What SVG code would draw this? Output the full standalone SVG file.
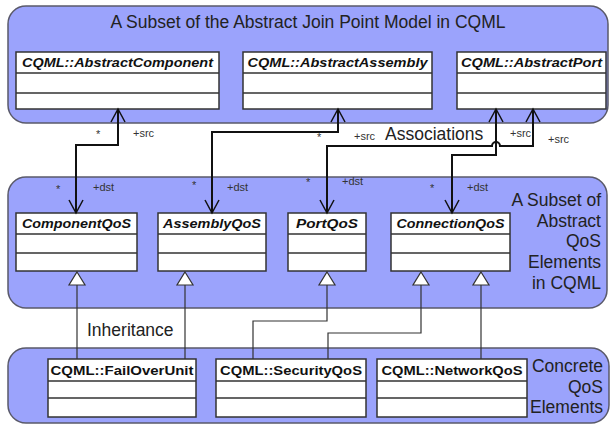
<svg xmlns="http://www.w3.org/2000/svg" width="610" height="425" viewBox="0 0 610 425">
<style>
.panel{fill:#9ba3fc;stroke:#5a5a6a;stroke-width:1.5}
.box{fill:#fff;stroke:#333;stroke-width:1.5}
.sep{stroke:#333;stroke-width:1.5}
.cn{font-family:"Liberation Sans",Arial,sans-serif;font-size:13px;font-weight:bold;font-style:italic;fill:#111;text-anchor:middle}
.cc{font-family:"Liberation Sans",Arial,sans-serif;font-size:12.5px;font-weight:bold;fill:#111;text-anchor:middle}
.big{font-family:"Liberation Sans",Arial,sans-serif;font-size:17.5px;fill:#222}
.lab{font-family:"Liberation Sans",Arial,sans-serif;font-size:11px;fill:#333}
.assoc{fill:none;stroke:#111;stroke-width:2}
.inh{fill:none;stroke:#333;stroke-width:1.2}
.tri{fill:#fff;stroke:#333;stroke-width:1.2}
</style>
<defs>
<marker id="open" markerUnits="userSpaceOnUse" markerWidth="20" markerHeight="20" refX="0" refY="0" viewBox="-14 -10 16 20" orient="auto-start-reverse" overflow="visible">
<path d="M-13,-7 L0,0 L-13,7" fill="none" stroke="#111" stroke-width="1.5"/>
</marker>
</defs>
<g id="panel-top">
<rect class="panel" x="8" y="6" width="600" height="117" rx="18"/>
<text class="big" x="308" y="28" text-anchor="middle">A Subset of the Abstract Join Point Model in CQML</text>
</g>
<g id="panel-mid">
<rect class="panel" x="8" y="177" width="599" height="131" rx="18"/>
<text class="big" text-anchor="end"><tspan x="601" y="206">A Subset of</tspan><tspan x="601" y="227">Abstract</tspan><tspan x="601" y="247">QoS</tspan><tspan x="601" y="268">Elements</tspan><tspan x="601" y="289">in CQML</tspan></text>
</g>
<g id="panel-bottom">
<rect class="panel" x="8" y="348" width="601" height="75" rx="18"/>
<text class="big" text-anchor="end"><tspan x="603" y="372">Concrete</tspan><tspan x="603" y="393">QoS</tspan><tspan x="603" y="413">Elements</tspan></text>
</g>
<g id="AbstractComponent">
<rect class="box" x="16" y="52" width="203" height="57"/>
<path class="sep" d="M16,73 H219 M16,93 H219"/>
<text class="cn" x="117.5" y="67" textLength="191" lengthAdjust="spacingAndGlyphs">CQML::AbstractComponent</text>
</g>
<g id="AbstractAssembly">
<rect class="box" x="243" y="52" width="189" height="57"/>
<path class="sep" d="M243,73 H432 M243,93 H432"/>
<text class="cn" x="337.5" y="67" textLength="180" lengthAdjust="spacingAndGlyphs">CQML::AbstractAssembly</text>
</g>
<g id="AbstractPort">
<rect class="box" x="457" y="52" width="149" height="57"/>
<path class="sep" d="M457,73 H606 M457,93 H606"/>
<text class="cn" x="531.5" y="67" textLength="141" lengthAdjust="spacingAndGlyphs">CQML::AbstractPort</text>
</g>
<g id="ComponentQoS">
<rect class="box" x="16" y="213" width="121" height="58"/>
<path class="sep" d="M16,234 H137 M16,253 H137"/>
<text class="cn" x="76.5" y="228" textLength="109" lengthAdjust="spacingAndGlyphs">ComponentQoS</text>
</g>
<g id="AssemblyQoS">
<rect class="box" x="158" y="213" width="108" height="58"/>
<path class="sep" d="M158,234 H266 M158,253 H266"/>
<text class="cn" x="212" y="228" textLength="98" lengthAdjust="spacingAndGlyphs">AssemblyQoS</text>
</g>
<g id="PortQoS">
<rect class="box" x="288" y="213" width="78" height="58"/>
<path class="sep" d="M288,234 H366 M288,253 H366"/>
<text class="cn" x="327" y="228" textLength="62" lengthAdjust="spacingAndGlyphs">PortQoS</text>
</g>
<g id="ConnectionQoS">
<rect class="box" x="391" y="213" width="119" height="58"/>
<path class="sep" d="M391,234 H510 M391,253 H510"/>
<text class="cn" x="450.5" y="228" textLength="108" lengthAdjust="spacingAndGlyphs">ConnectionQoS</text>
</g>
<g id="FailOverUnit">
<rect class="box" x="48" y="359" width="148" height="58"/>
<path class="sep" d="M48,381 H196 M48,398 H196"/>
<text class="cc" x="122" y="375" textLength="143" lengthAdjust="spacingAndGlyphs">CQML::FailOverUnit</text>
</g>
<g id="SecurityQoS">
<rect class="box" x="216" y="359" width="150" height="58"/>
<path class="sep" d="M216,381 H366 M216,398 H366"/>
<text class="cc" x="291" y="375" textLength="142" lengthAdjust="spacingAndGlyphs">CQML::SecurityQoS</text>
</g>
<g id="NetworkQoS">
<rect class="box" x="377" y="359" width="150" height="58"/>
<path class="sep" d="M377,381 H527 M377,398 H527"/>
<text class="cc" x="452" y="375" textLength="141" lengthAdjust="spacingAndGlyphs">CQML::NetworkQoS</text>
</g>
<g id="connectors">
<path class="assoc" d="M118,109 V145 H76 V213" marker-start="url(#open)" marker-end="url(#open)"/>
<path class="assoc" d="M338,109 V132 H212 V213" marker-start="url(#open)" marker-end="url(#open)"/>
<path class="assoc" d="M533,109 V146 H500 A4,4 0 0 0 492,146 H327 V213" marker-start="url(#open)" marker-end="url(#open)"/>
<path class="assoc" d="M496,109 V155 H452 V213" marker-start="url(#open)" marker-end="url(#open)"/>
<path class="inh" d="M77,285 V359"/>
<path class="inh" d="M185,285 V359"/>
<path class="inh" d="M327,285 V321 H253 V359"/>
<path class="inh" d="M421,285 V333 H328 V359"/>
<path class="inh" d="M481,285 V359"/>
<path class="tri" d="M77,272 L85,285 L69,285 Z"/>
<path class="tri" d="M185,272 L193,285 L177,285 Z"/>
<path class="tri" d="M327,272 L335,285 L319,285 Z"/>
<path class="tri" d="M421,272 L429,285 L413,285 Z"/>
<path class="tri" d="M481,272 L489,285 L473,285 Z"/>
<text class="lab" x="96" y="138">*</text>
<text class="lab" x="133" y="137">+src</text>
<text class="lab" x="56" y="193">*</text>
<text class="lab" x="93" y="191">+dst</text>
<text class="lab" x="317" y="141">*</text>
<text class="lab" x="354" y="140">+src</text>
<text class="lab" x="192" y="189">*</text>
<text class="lab" x="227" y="191">+dst</text>
<text class="lab" x="306" y="186">*</text>
<text class="lab" x="342" y="185">+dst</text>
<text class="lab" x="430" y="192">*</text>
<text class="lab" x="467" y="191">+dst</text>
<text class="lab" x="510" y="137">+src</text>
<text class="lab" x="548" y="143">+src</text>
<text class="big" x="385" y="140">Associations</text>
<text class="big" x="87" y="336" font-size="16.3">Inheritance</text>
</g>
</svg>
